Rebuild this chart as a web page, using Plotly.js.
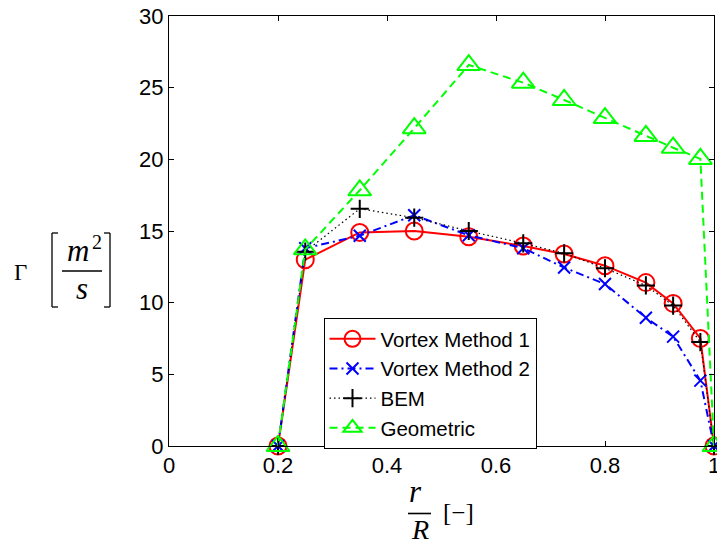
<!DOCTYPE html>
<html>
<head>
<meta charset="utf-8">
<script src="https://cdn.plot.ly/plotly-3.0.1.min.js"></script>
<style>html,body{margin:0;padding:0;background:#fff;}#chart{width:717px;height:544px;}</style>
</head>
<body>
<div id="chart"></div>
<script>
// ---- data ----
const rR = [0.2, 0.25, 0.35, 0.45, 0.55, 0.65, 0.725, 0.8, 0.875, 0.925, 0.975, 1.0];
const vortex1 = [0, 13.0, 14.9, 15.0, 14.6, 13.95, 13.4, 12.58, 11.4, 9.95, 7.5, 0];
const vortex2 = [0, 13.8, 14.67, 16.1, 14.7, 13.8, 12.45, 11.3, 8.95, 7.63, 4.56, 0];
const bem     = [0, 13.56, 16.55, 15.93, 15.0, 14.14, 13.44, 12.4, 11.2, 9.8, 7.25, 0];
const geometric = [0, 13.72, 17.84, 22.17, 26.58, 25.35, 24.14, 22.88, 21.63, 20.81, 20.03, 0];
const seriesNames = ['Vortex Method 1', 'Vortex Method 2', 'BEM', 'Geometric'];
const xTickVals = [0, 0.2, 0.4, 0.6, 0.8, 1];
const xTickText = ['0', '0.2', '0.4', '0.6', '0.8', '1'];
const yTickVals = [0, 5, 10, 15, 20, 25, 30];
const yTickText = ['0', '5', '10', '15', '20', '25', '30'];

// ---- geometry (pixels) ----
const FW = 717, FH = 544;
const L = 169, T = 16, R = 714, B = 446;
const PW = R - L, PH = B - T;
const px = v => (v - L) / PW;
const py = v => (B - v) / PH;

const traces = [
  {x: rR, y: vortex1, name: seriesNames[0], mode: 'lines+markers', cliponaxis: false,
   line: {color: '#ff0000', width: 2, dash: 'solid'},
   marker: {symbol: 'circle-open', size: 17, color: '#ff0000', line: {width: 2, color: '#ff0000'}}},
  {x: rR, y: vortex2, name: seriesNames[1], mode: 'lines+markers', cliponaxis: false,
   line: {color: '#0000ff', width: 2, dash: '8px,4px,2px,4px'},
   marker: {symbol: 'x-thin', size: 12, color: '#0000ff', line: {width: 2, color: '#0000ff'}}},
  {x: rR, y: bem, name: seriesNames[2], mode: 'lines+markers', cliponaxis: false,
   line: {color: '#000000', width: 1.2, dash: '1.5px,3px'},
   marker: {symbol: 'cross-thin', size: 13, color: '#000000', line: {width: 2, color: '#000000'}}},
  {x: rR, y: geometric, name: seriesNames[3], mode: 'lines+markers', cliponaxis: false,
   line: {color: '#00ff00', width: 2, dash: '8px,5px'},
   marker: {symbol: 'triangle-up-open', size: 20, color: '#00ff00', line: {width: 2, color: '#00ff00'}}}
];

const serif = 'Liberation Serif, Times New Roman, serif';
const ann = (text, x, y, size, italic, xa) => ({
  text: italic ? '<i>' + text + '</i>' : text,
  xref: 'paper', yref: 'paper', x: px(x), y: py(y),
  xanchor: xa || 'center', yanchor: 'middle', showarrow: false,
  font: {family: serif, size: size, color: '#000'}
});
const seg = (x0, y0, x1, y1, w) => ({
  type: 'line', xref: 'paper', yref: 'paper',
  x0: px(x0), y0: py(y0), x1: px(x1), y1: py(y1),
  line: {color: '#000', width: w || 1.3}
});

const layout = {
  width: FW, height: FH,
  margin: {l: L, r: FW - R, t: T, b: FH - B, pad: 0},
  paper_bgcolor: '#fff', plot_bgcolor: '#fff',
  showlegend: true,
  font: {family: 'Liberation Sans, Arial, sans-serif', size: 22, color: '#000'},
  xaxis: {range: [0, 1], tickvals: xTickVals, ticktext: xTickText,
    ticks: 'inside', ticklen: 5, tickwidth: 1, tickcolor: '#000',
    showline: true, linecolor: '#000', linewidth: 1, mirror: 'ticks',
    showgrid: false, zeroline: false, fixedrange: true, ticklabeloverflow: 'allow',
    tickfont: {size: 22, color: '#000'}},
  yaxis: {range: [0, 30], tickvals: yTickVals, ticktext: yTickText,
    ticks: 'inside', ticklen: 5, tickwidth: 1, tickcolor: '#000',
    showline: true, linecolor: '#000', linewidth: 1, mirror: 'ticks',
    showgrid: false, zeroline: false, fixedrange: true, ticklabeloverflow: 'allow',
    tickfont: {size: 22, color: '#000'}},
  legend: {x: px(323.5), y: py(318), xanchor: 'left', yanchor: 'top',
    bgcolor: '#fff', bordercolor: '#000', borderwidth: 1,
    font: {size: 20.5, color: '#000'}, itemwidth: 46, tracegroupgap: 0},
  annotations: [
    ann('Γ', 20, 272, 23, false),
    ann('m', 77.5, 250, 31, true),
    ann('2', 97, 242, 20, false),
    ann('s', 82, 288, 31, true),
    ann('r', 415, 491, 31, true),
    ann('R', 420, 529, 28, true),
    ann('[−]', 458, 512, 25, false)
  ],
  shapes: [
    // left bracket
    seg(52, 233, 52, 307), seg(52, 233, 58, 233), seg(52, 307, 58, 307),
    // right bracket
    seg(110, 233, 110, 307), seg(104, 233, 110, 233), seg(104, 307, 110, 307),
    // fraction bars
    seg(62, 271, 102, 271, 1.6),
    seg(408, 513.5, 431, 513.5, 1.6)
  ]
};

Plotly.newPlot('chart', traces, layout, {staticPlot: true, displayModeBar: false});
</script>
</body>
</html>
